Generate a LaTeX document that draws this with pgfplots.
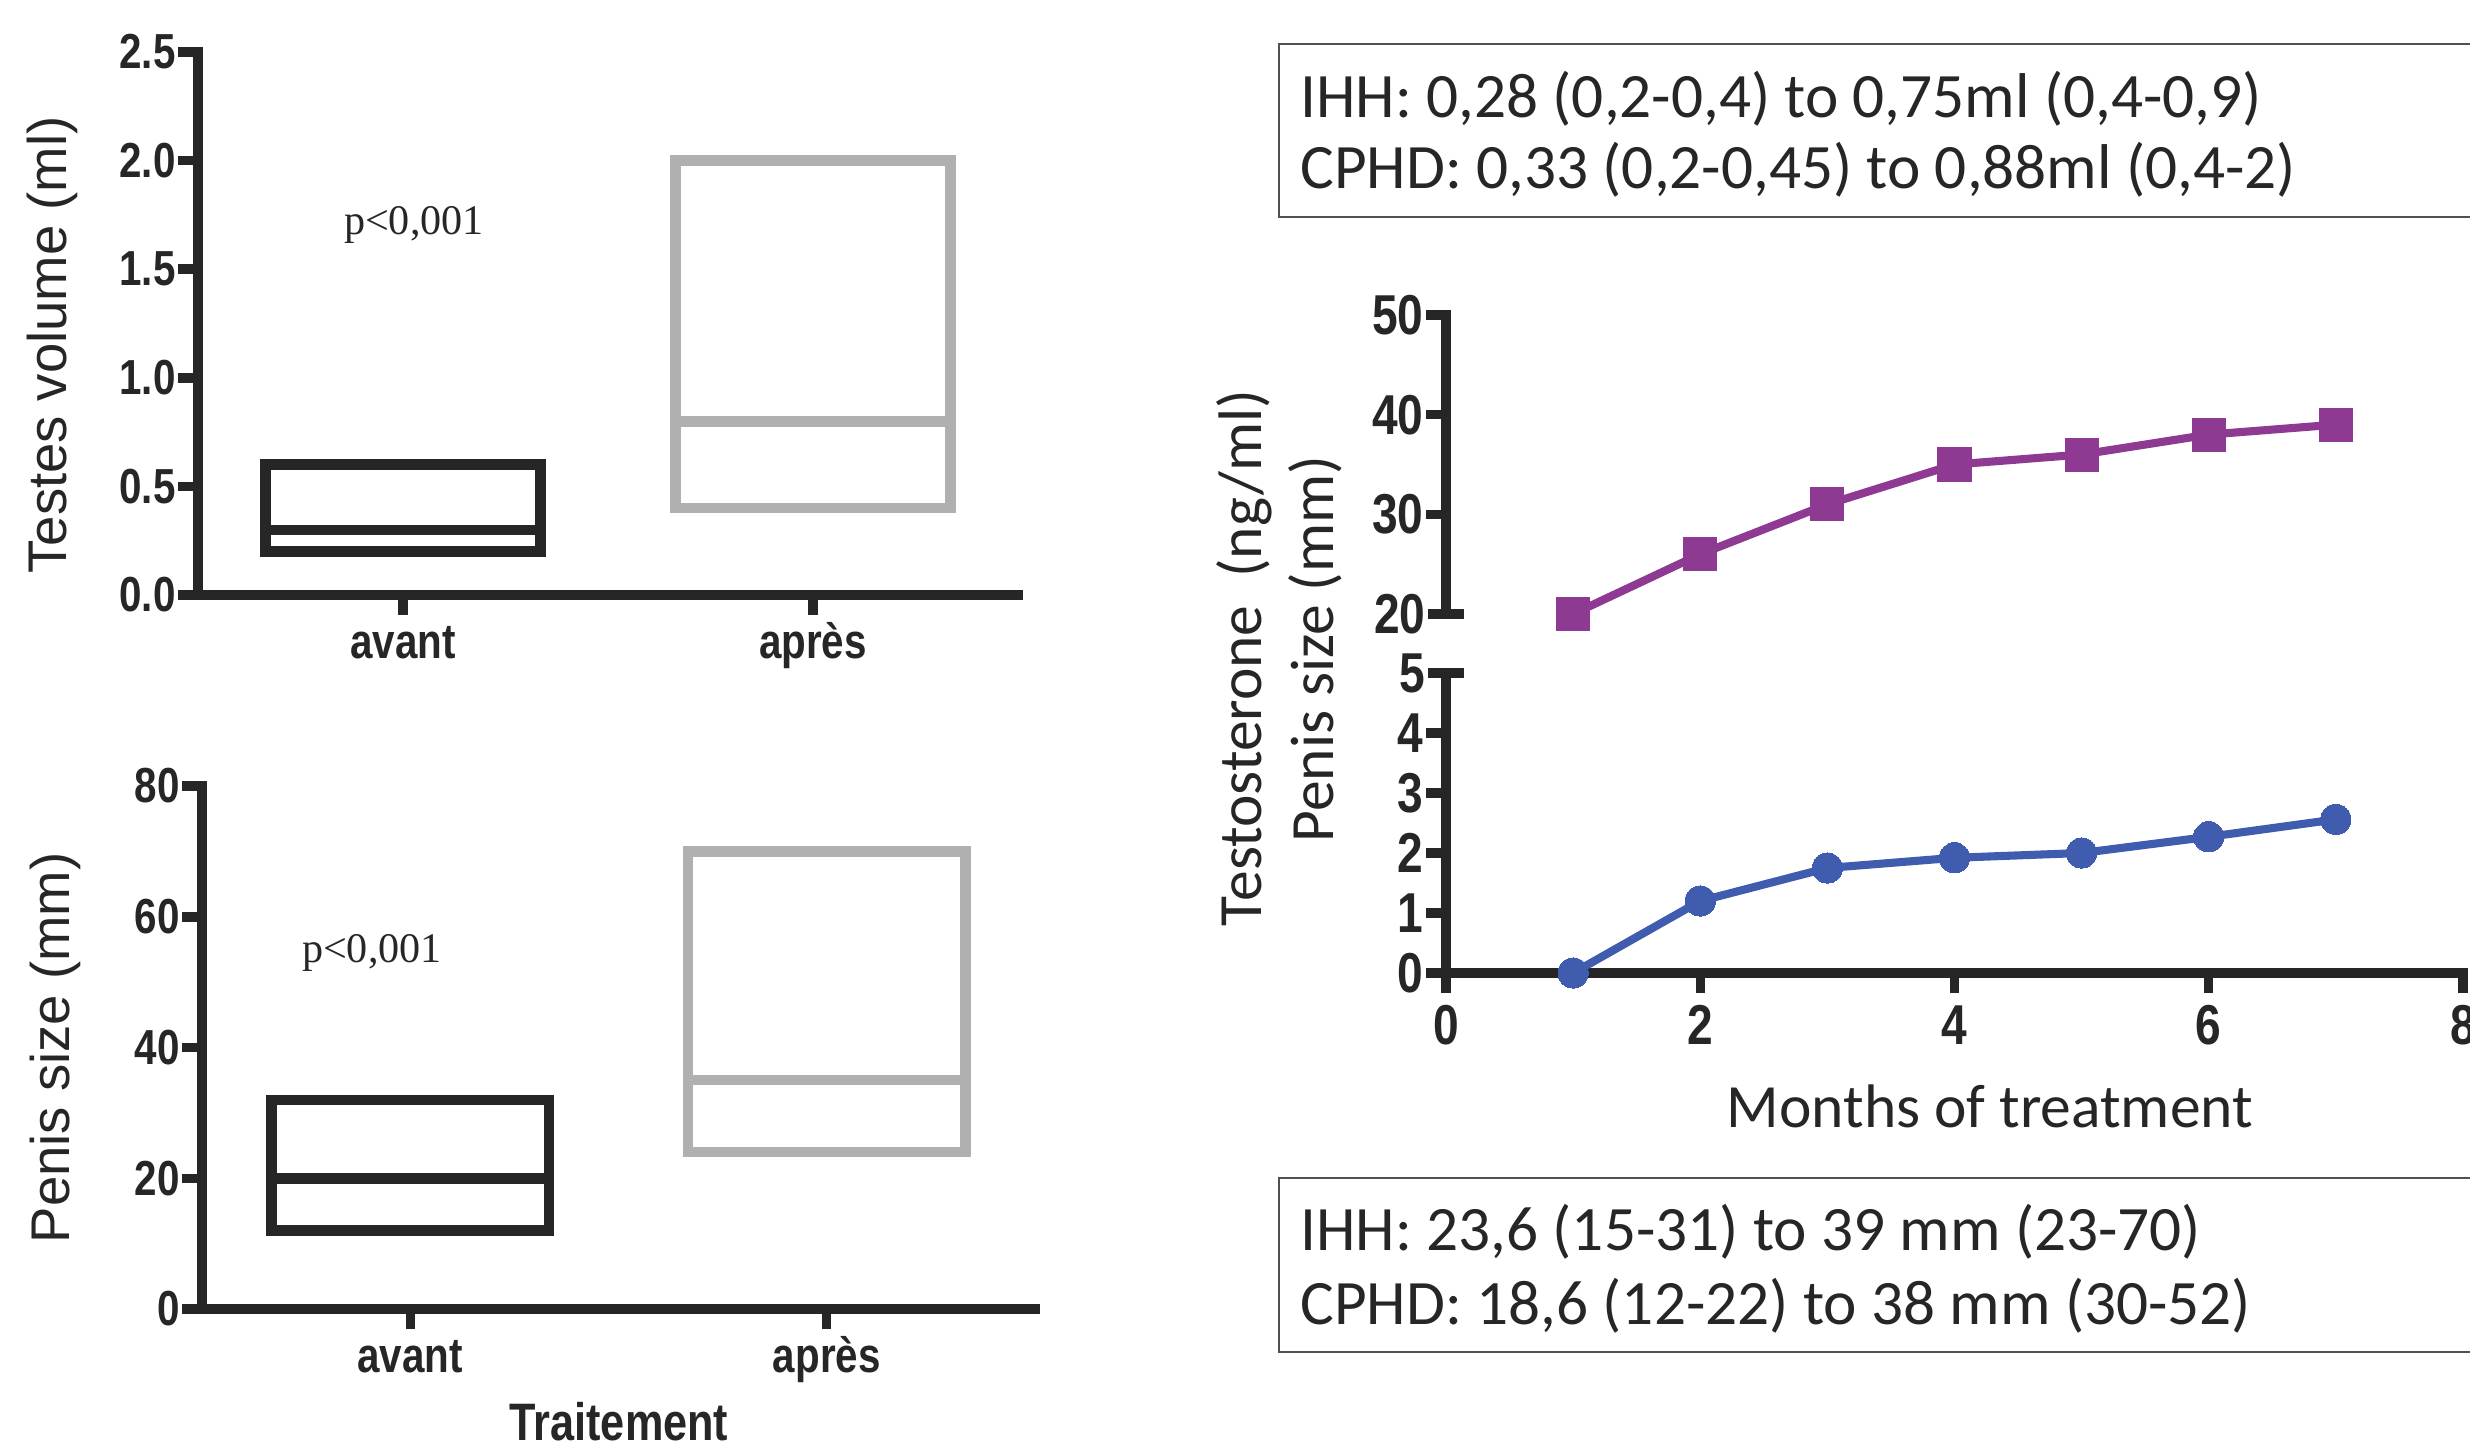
\documentclass[border=0pt]{standalone}
\usepackage{fontspec}
\setmainfont{Liberation Sans}
\newfontfamily\narrowbf{Liberation Sans Bold}[FakeStretch=0.82]
\newfontfamily\calib{Carlito}
\newfontfamily\timesf{Liberation Serif}
\usepackage{pgfplots}
\pgfplotsset{compat=1.18}

\definecolor{ink}{HTML}{262626}
\definecolor{boxgray}{HTML}{B0B0B0}
\definecolor{purp}{HTML}{8E3A92}
\definecolor{blu}{HTML}{3F5CAE}

\pgfplotsset{
  gp/.style={
    scale only axis,
    anchor=south west,
    axis lines=left,
    axis line style={-, line width=2.7pt, color=ink, line cap=rect},
    major tick style={line width=2.7pt, color=ink},
    tick align=outside,
    major tick length=2mm,
    minor tick num=0,
    clip=false,
    /pgf/number format/assume math mode=true,
    tick label style={text=ink},
  },
  leftp/.style={
    gp,
    xmin=0.5, xmax=2.5,
    xtick={1,2}, xticklabels={avant,après},
    tick label style={font=\fontsize{14}{14}\selectfont\narrowbf},
    xticklabel style={text height=12pt, text depth=3.5pt, yshift=1.1mm},
    yticklabel style={xshift=1mm},
  },
  rightp/.style={
    gp,
    xmin=0, xmax=8,
    width=101.7mm, height=30mm,
    tick label style={font=\fontsize{16}{16}\selectfont\narrowbf},
    yticklabel style={xshift=1mm},
    extra y tick style={tick align=center, major tick length=3.6mm},
  },
  bx/.style={line width=3pt, line join=miter},
}

\begin{document}
\begin{tikzpicture}
\path[use as bounding box] (0,0) rectangle (247mm,144.8mm);

% ---- testes volume ----
\begin{axis}[leftp, at={(19.8mm,85.3mm)}, width=82mm, height=54.3mm,
  ymin=0, ymax=2.5, ytick={0,0.5,...,2.5},
  yticklabel style={/pgf/number format/.cd, fixed, fixed zerofill, precision=1}]
  \addplot[bx, ink] coordinates {(0.665,0.2) (1.335,0.2) (1.335,0.6) (0.665,0.6)} -- cycle;
  \addplot[bx, ink] coordinates {(0.665,0.3) (1.335,0.3)};
  \addplot[bx, boxgray] coordinates {(1.665,0.4) (2.335,0.4) (2.335,2.0) (1.665,2.0)} -- cycle;
  \addplot[bx, boxgray] coordinates {(1.665,0.8) (2.335,0.8)};
\end{axis}

% ---- penis size ----
\begin{axis}[leftp, at={(20.2mm,13.9mm)}, width=83.3mm, height=52.3mm,
  ymin=0, ymax=80, ytick={0,20,...,80}]
  \addplot[bx, ink] coordinates {(0.667,12) (1.333,12) (1.333,32) (0.667,32)} -- cycle;
  \addplot[bx, ink] coordinates {(0.667,20) (1.333,20)};
  \addplot[bx, boxgray] coordinates {(1.667,24) (2.333,24) (2.333,70) (1.667,70)} -- cycle;
  \addplot[bx, boxgray] coordinates {(1.667,35) (2.333,35)};
\end{axis}

% ---- right: upper part (penis size) ----
\begin{axis}[rightp, at={(144.6mm,83.4mm)}, height=29.9mm,
  axis x line=none,
  ymin=20, ymax=50, ytick={30,40,50}, extra y ticks={20}]
  \addplot[purp, line width=2.3pt, mark=square*, mark size=4.7pt,
    mark options={fill=purp, draw=purp, line width=0pt}]
    coordinates {(1,20) (2,26) (3,31) (4,35) (5,36) (6,38) (7,39)};
\end{axis}

% ---- right: lower part (testosterone) ----
\begin{axis}[rightp, at={(144.6mm,47.5mm)},
  ymin=0, ymax=5, ytick={0,1,...,4}, extra y ticks={5},
  xtick={0,2,...,8}]
  \addplot[blu, line width=2.3pt, mark=*, mark size=4.3pt,
    mark options={fill=blu, draw=blu, line width=0pt}]
    coordinates {(1,0) (2,1.2) (3,1.75) (4,1.92) (5,2.0) (6,2.27) (7,2.56)};
\end{axis}

% ---- labels ----
\node[rotate=90, text=ink, font=\fontsize{15.5}{15.5}\selectfont] at (5.2mm,110.3mm) {Testes volume (ml)};
\node[rotate=90, text=ink, font=\fontsize{15.5}{15.5}\selectfont] at (5.5mm,40.0mm) {Penis size (mm)};
\node[text=ink, font=\fontsize{15}{15}\selectfont\narrowbf] at (61.9mm,2.6mm) {Traitement};
\node[text=ink, font=\fontsize{12}{12}\selectfont\timesf] at (41.4mm,122.3mm) {p<0,001};
\node[text=ink, font=\fontsize{12}{12}\selectfont\timesf] at (37.2mm,49.5mm) {p<0,001};

\node[rotate=90, text=ink, font=\fontsize{17.5}{17.5}\selectfont\calib] at (124.4mm,79.0mm) {Testosterone\ \ (ng/ml)};
\node[rotate=90, text=ink, font=\fontsize{17.5}{17.5}\selectfont\calib] at (131.5mm,79.9mm) {Penis size (mm)};
\node[text=ink, font=\fontsize{17.5}{17.5}\selectfont\calib] at (199.0mm,34.2mm) {Months of treatment};

% ---- text boxes ----
\draw[line width=0.7pt, color=ink!80] (127.9mm,140.4mm) rectangle (262mm,123.1mm);
\node[anchor=west, text=ink, font=\fontsize{18}{18}\selectfont\calib] at (128.8mm,134.9mm) {IHH: 0,28 (0,2-0,4) to 0,75ml (0,4-0,9)};
\node[anchor=west, text=ink, font=\fontsize{18}{18}\selectfont\calib] at (128.8mm,127.8mm) {CPHD: 0,33 (0,2-0,45) to 0,88ml (0,4-2)};

\draw[line width=0.7pt, color=ink!80] (127.9mm,27.0mm) rectangle (262mm,9.6mm);
\node[anchor=west, text=ink, font=\fontsize{18}{18}\selectfont\calib] at (128.8mm,21.6mm) {IHH: 23,6 (15-31) to 39 mm (23-70)};
\node[anchor=west, text=ink, font=\fontsize{18}{18}\selectfont\calib] at (128.8mm,14.2mm) {CPHD: 18,6 (12-22) to 38 mm (30-52)};
\end{tikzpicture}
\end{document}
